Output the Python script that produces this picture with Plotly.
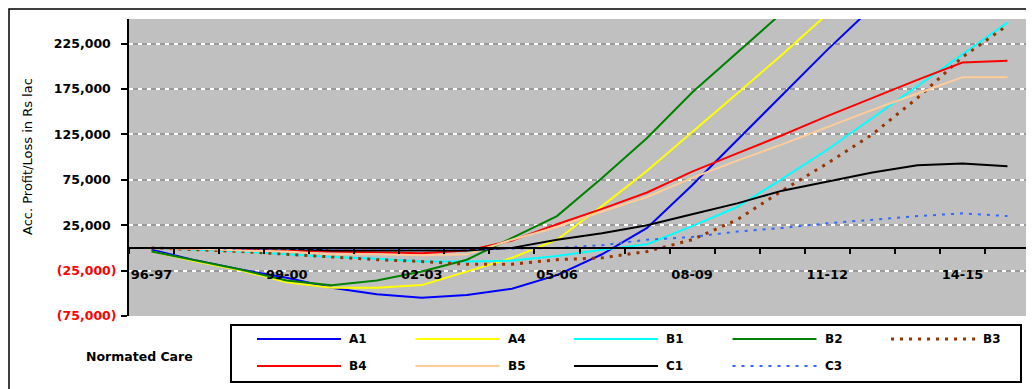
import plotly.graph_objects as go

# ---------------- data (Rs lac) ----------------
categories = ["96-97", "97-98", "98-99", "99-00", "00-01", "01-02", "02-03", "03-04",
              "04-05", "05-06", "06-07", "07-08", "08-09", "09-10", "10-11", "11-12",
              "12-13", "13-14", "14-15", "15-16"]
shown_labels = ["96-97", "99-00", "02-03", "05-06", "08-09", "11-12", "14-15"]

A1 = [-2000, -14000, -24000, -33000, -44000, -51000, -55000, -52000, -45000, -30000,
      -7000, 22000, 69000, 119000, 168000, 218000, 265000, 315000, 365000, 415000]
A4 = [-4000, -15000, -25000, -38000, -44000, -44000, -41000, -26000, -11000, 9000,
      46000, 85000, 127000, 170000, 213000, 257000, 300000, 345000, 390000, 435000]
B1 = [0, -2000, -4000, -7000, -10000, -12000, -15000, -15000, -14000, -9000,
      -2000, 4000, 24000, 45000, 76000, 108000, 143000, 179000, 214000, 248000]
B2 = [-4000, -14000, -24000, -36000, -41000, -36000, -26000, -13000, 11000, 35000,
      77000, 121000, 171000, 215000, 259000, 300000, 340000, 380000, 420000, 460000]
B3 = [0, -2000, -4000, -7000, -10000, -13000, -15000, -18000, -18000, -13000,
      -11000, -4000, 9000, 31000, 63000, 93000, 125000, 165000, 210000, 245000]
B4 = [0, -1000, -2000, -3000, -4000, -5000, -6000, -3000, 8000, 26000,
      43000, 61000, 84000, 104000, 124000, 145000, 165000, 185000, 204000, 206000]
B5 = [0, -1000, -3000, -4000, -7000, -7000, -8000, -7000, 9000, 23000,
      40000, 56000, 77000, 96000, 114000, 133000, 152000, 170000, 188000, 188000]
C1 = [0, 0, 0, -1000, -3000, -3000, -3000, -3000, 0, 9000,
      16000, 25000, 37000, 49000, 63000, 73000, 83000, 91000, 93000, 90000]
C3 = [0, 0, -1000, -1000, -1000, -1000, -1000, -1000, -1000, 0,
      3000, 9000, 12000, 18000, 22000, 27000, 31000, 35000, 38000, 35000]

y_ticks = [-75000, -25000, 25000, 75000, 125000, 175000, 225000]
y_range = [-75000, 252000]

series = [
    ("A1", A1, "#0000FF", "solid", 2),
    ("A4", A4, "#FFFF00", "solid", 2),
    ("B1", B1, "#00FFFF", "solid", 2),
    ("B2", B2, "#008000", "solid", 2),
    ("B3", B3, "#993300", "3px,6px", 3),
    ("B4", B4, "#FF0000", "solid", 2),
    ("B5", B5, "#FFCC99", "solid", 2),
    ("C1", C1, "#000000", "solid", 2),
    ("C3", C3, "#3366FF", "3px,6px", 2),
]

# ---------------- geometry ----------------
# the page body has an 8px default margin; the figure is sized to fit inside it
OFF = 8
W, H = 1034 - OFF, 389 - OFF
PL, PR, PT, PB = 129, 1030, 19, 316          # plot area in screen pixels
ML, MT = PL - OFF, PT - OFF
MR, MB = W - (PR - OFF), H - (PB - OFF)
PW, PH = W - ML - MR, H - MT - MB


def px(x):
    return (x - PL) / PW


def py(y):
    return (PB - y) / PH


xs = list(range(len(categories)))

fig = go.Figure()
for name, vals, color, dash, width in series:
    fig.add_trace(go.Scatter(x=xs, y=vals, mode="lines", name=name,
                             line=dict(color=color, dash=dash, width=width),
                             showlegend=False))
# helper trace so the overlay grid axis exists
fig.add_trace(go.Scatter(x=[], y=[], yaxis="y2", showlegend=False, hoverinfo="skip"))


def fmt(v):
    s = f"{abs(v):,}"
    if v < 0:
        return f"<span style='color:#FF0000'>({s})</span>"
    return f"{s}<span style='color:rgba(0,0,0,0)'>)</span>"


zero_pos = (0 - y_range[0]) / (y_range[1] - y_range[0])
tick_font = dict(family="DejaVu Sans", size=12.5, color="black", weight="bold")

fig.update_layout(
    width=W, height=H,
    margin=dict(l=ML, r=MR, t=MT, b=MB),
    paper_bgcolor="white",
    plot_bgcolor="#C0C0C0",
    showlegend=False,
    xaxis=dict(
        range=[-0.5, len(categories) - 0.5],
        tickmode="array",
        tickvals=[categories.index(c) for c in shown_labels],
        ticktext=shown_labels,
        ticks="outside", ticklen=5, tickcolor="rgba(0,0,0,0)",
        ticklabelstandoff=10,
        tickfont=dict(family="DejaVu Sans", size=13, color="black", weight="bold"),
        showgrid=False, zeroline=False,
        showline=True, linecolor="black", linewidth=1.5,
        anchor="free", position=zero_pos,
        minor=dict(tickmode="array",
                   tickvals=[i - 0.5 for i in range(len(categories) + 1)],
                   ticks="outside", ticklen=5, tickwidth=1.5, tickcolor="black",
                   showgrid=False),
        automargin=False,
    ),
    yaxis=dict(
        range=y_range,
        tickmode="array",
        tickvals=y_ticks,
        ticktext=[fmt(v) for v in y_ticks],
        ticks="outside", ticklen=6, tickwidth=1.5, tickcolor="black",
        ticklabelstandoff=2,
        tickfont=tick_font,
        showgrid=True, gridcolor="#999999", gridwidth=2,
        zeroline=False,
        showline=True, linecolor="black", linewidth=2,
        automargin=False,
    ),
    yaxis2=dict(
        range=y_range, overlaying="y", tickmode="array", tickvals=y_ticks,
        showticklabels=False, ticks="", showline=False, zeroline=False,
        showgrid=True, gridcolor="white", gridwidth=2, griddash="4px,5px",
    ),
)

shapes = []
annotations = []

# outer chart frame
shapes.append(dict(type="rect", xref="paper", yref="paper",
                   x0=px(9), x1=px(1060), y0=py(420), y1=py(9),
                   line=dict(color="black", width=1.5), fillcolor="rgba(0,0,0,0)"))

# legend box
shapes.append(dict(type="rect", xref="paper", yref="paper",
                   x0=px(231), x1=px(1021), y0=py(382), y1=py(325),
                   line=dict(color="black", width=2), fillcolor="white"))

col_start, col_step, line_len = 257, 158.5, 84
row_y = [339, 366]
per_row = 5
for k, (name, vals, color, dash, width) in enumerate(series):
    r, c = divmod(k, per_row)
    x0 = col_start + c * col_step
    yy = row_y[r]
    shapes.append(dict(type="line", xref="paper", yref="paper",
                       x0=px(x0), x1=px(x0 + line_len), y0=py(yy), y1=py(yy),
                       line=dict(color=color, width=width, dash=dash)))
    annotations.append(dict(xref="paper", yref="paper", x=px(x0 + line_len + 6), y=py(yy),
                            text=name, showarrow=False, xanchor="left", yanchor="middle",
                            font=dict(family="DejaVu Sans", size=12, color="black",
                                      weight="bold")))

annotations.append(dict(xref="paper", yref="paper", x=px(139), y=py(356),
                        text="Normated Care", showarrow=False,
                        xanchor="center", yanchor="middle",
                        font=dict(family="DejaVu Sans", size=12.5, color="black",
                                  weight="bold")))

annotations.append(dict(xref="paper", yref="paper", x=px(27), y=py(157),
                        text="Acc. Profit/Loss in Rs lac", textangle=-90,
                        showarrow=False, xanchor="center", yanchor="middle",
                        font=dict(family="DejaVu Sans", size=13, color="black")))

fig.update_layout(shapes=shapes, annotations=annotations)

fig.write_html("out.html")
